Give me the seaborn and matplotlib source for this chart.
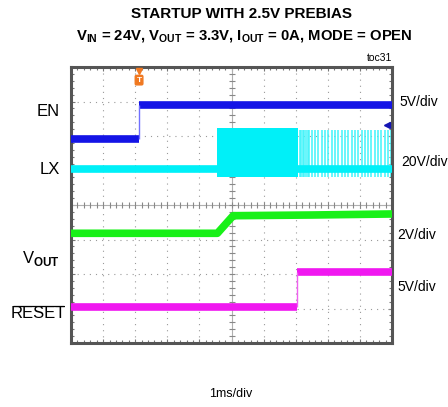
import matplotlib
matplotlib.use("Agg")
import matplotlib.pyplot as plt
import seaborn as sns
import pandas as pd
import numpy as np

# ---- data (divisions: x 0..10, y 0..8) ----
en_t = [0.0, 2.12, 2.12, 10.0]
en_v = [5.91, 5.91, 6.90, 6.90]
en_seg = [0, 0, 1, 1]

lx_base_t = [0.0, 10.0]
lx_base_v = [5.03, 5.03]
lx_dense_t = [4.56, 7.08]
lx_dense_top = 6.22
lx_dense_bot = 4.82
lx_pulse_t = [7.12, 7.17, 7.22, 7.27, 7.32, 7.37, 7.42,
              7.50, 7.61, 7.71, 7.82, 7.92, 8.02, 8.12, 8.23, 8.33, 8.43,
              8.53, 8.64, 8.74, 8.84, 8.95, 9.05, 9.15, 9.26, 9.36, 9.46,
              9.57, 9.67, 9.77, 9.88, 9.97]
lx_pulse_top = 6.17
lx_pulse_bot = 4.81

vout_t = [0.0, 4.56, 5.05, 7.5, 10.0]
vout_v = [3.18, 3.18, 3.69, 3.71, 3.74]

rst_t = [0.0, 7.04, 7.04, 10.0]
rst_v = [1.05, 1.05, 2.05, 2.05]
rst_seg = [0, 0, 1, 1]

left_labels = ["EN", "LX", "V$_{\\mathrm{OUT}}$", "RESET"]
right_labels = ["5V/div", "20V/div", "2V/div", "5V/div"]
title1 = "STARTUP WITH 2.5V PREBIAS"
title2 = ("V$_{\\mathrm{IN}}$ = 24V, V$_{\\mathrm{OUT}}$ = 3.3V, "
          "I$_{\\mathrm{OUT}}$ = 0A, MODE = OPEN")
trig_t = 2.12

sns.set_style("white")
plt.rcParams['font.family'] = ['Liberation Sans', 'DejaVu Sans']
plt.rcParams['text.color'] = 'black'
plt.rcParams['mathtext.fontset'] = 'custom'
plt.rcParams['mathtext.rm'] = 'Liberation Sans'
plt.rcParams['lines.solid_capstyle'] = 'butt'

W, H = 448, 407
fig = plt.figure(figsize=(W / 100, H / 100), dpi=100)
L, R, T, B = 71, 392, 67, 343
ax = fig.add_axes([L / W, 1 - B / H, (R - L) / W, (B - T) / H])
ax.set_xlim(0, 10)
ax.set_ylim(0, 8)

# grid
for x in range(1, 10):
    if x != 5:
        ax.axvline(x, color="#9a9a9a", lw=0.8, ls=(0, (1, 4.5)), zorder=1)
for y in range(1, 8):
    if y != 4:
        ax.axhline(y, color="#9a9a9a", lw=0.8, ls=(0, (1, 4.5)), zorder=1)
ax.axvline(5, color="#b0b0b0", lw=0.8, zorder=1)
ax.axhline(4, color="#b0b0b0", lw=0.8, zorder=1)
ticks_x = np.arange(0, 10.01, 0.2)
ticks_y = np.arange(0, 8.01, 0.2)
ax.plot(ticks_x, np.full_like(ticks_x, 4), ls="none", marker="|", ms=4,
        color="#888888", mew=0.8, zorder=1)
ax.plot(np.full_like(ticks_y, 5), ticks_y, ls="none", marker="_", ms=4,
        color="#888888", mew=0.8, zorder=1)

ax.set_xticks(range(0, 11))
ax.set_yticks(range(0, 9))
ax.set_xticks(ticks_x, minor=True)
ax.set_yticks(ticks_y, minor=True)
ax.tick_params(which="both", direction="in", top=True, right=True,
               bottom=True, left=True, labelbottom=False, labelleft=False,
               color="#777777", width=0.8)
ax.tick_params(which="major", length=3)
ax.tick_params(which="minor", length=2.5)
for s in ax.spines.values():
    s.set_color("#555555")
    s.set_linewidth(2.2)

# traces
ax.fill_between(lx_dense_t, lx_dense_bot, lx_dense_top, color="#00f0f8",
                lw=0, zorder=2)
ax.vlines(lx_pulse_t, lx_pulse_bot, lx_pulse_top, color="#40f4fa",
          lw=1.1, zorder=2)
df_lx = pd.DataFrame({"t": lx_base_t, "v": lx_base_v})
sns.lineplot(data=df_lx, x="t", y="v", sort=False, estimator=None, ax=ax,
             color="#00f0f8", lw=5.5, zorder=3, solid_capstyle="butt")

df_en = pd.DataFrame({"t": en_t, "v": en_v, "seg": en_seg})
sns.lineplot(data=df_en, x="t", y="v", units="seg", sort=False,
             estimator=None, ax=ax, color="#1414e6", lw=5.5, zorder=3,
             solid_capstyle="butt")
ax.plot([en_t[1], en_t[2]], [en_v[1], en_v[2]], color="#7070ff", lw=1,
        zorder=3)

df_vo = pd.DataFrame({"t": vout_t, "v": vout_v})
sns.lineplot(data=df_vo, x="t", y="v", sort=False, estimator=None, ax=ax,
             color="#18f018", lw=5.5, zorder=3, solid_capstyle="butt")

df_rs = pd.DataFrame({"t": rst_t, "v": rst_v, "seg": rst_seg})
sns.lineplot(data=df_rs, x="t", y="v", units="seg", sort=False,
             estimator=None, ax=ax, color="#f018f0", lw=5.5, zorder=3,
             solid_capstyle="butt")
ax.plot([rst_t[1], rst_t[2]], [rst_v[1], rst_v[2]], color="#f060f0", lw=1,
        zorder=3)
ax.set_xlabel("")
ax.set_ylabel("")

# markers
ax.plot([trig_t], [7.88], marker="v", color="#f07820", ms=5, clip_on=False,
        zorder=5)
ax.text(trig_t, 7.62, "T", ha="center", va="center", color="white",
        fontsize=6, fontweight="bold", zorder=6,
        bbox=dict(boxstyle="round,pad=0.15", fc="#f07820", ec="#f07820"))
ax.plot([9.85], [6.32], marker="<", color="#1414b4", ms=5, zorder=5)

# labels
def ft(x, y, s, **kw):
    fig.text(x / W, 1 - y / H, s, color="black", **kw)

ft(60, 112, left_labels[0], ha="right", va="center", fontsize=12)
ft(60, 170, left_labels[1], ha="right", va="center", fontsize=12)
ft(60, 259, left_labels[2], ha="right", va="center", fontsize=12)
ft(38, 313, left_labels[3], ha="center", va="center", fontsize=12)
fig.add_artist(plt.Line2D([13 / W, 64 / W], [1 - 305.5 / H, 1 - 305.5 / H],
                          color="black", lw=0.9))

ft(399, 102, right_labels[0], ha="left", va="center", fontsize=10)
ft(401, 162, right_labels[1], ha="left", va="center", fontsize=10)
ft(397, 235, right_labels[2], ha="left", va="center", fontsize=10)
ft(397, 287, right_labels[3], ha="left", va="center", fontsize=10)

ft(241, 14, title1, ha="center", va="center", fontsize=11, fontweight="bold")
plt.rcParams['mathtext.rm'] = 'Liberation Sans:bold'
ft(244, 37, title2, ha="center", va="center", fontsize=10.7,
   fontweight="bold")
ft(392, 58, "toc31", ha="right", va="center", fontsize=7.5)
ft(231, 394, "1ms/div", ha="center", va="center", fontsize=9)

fig.savefig("out.png", dpi=100)
